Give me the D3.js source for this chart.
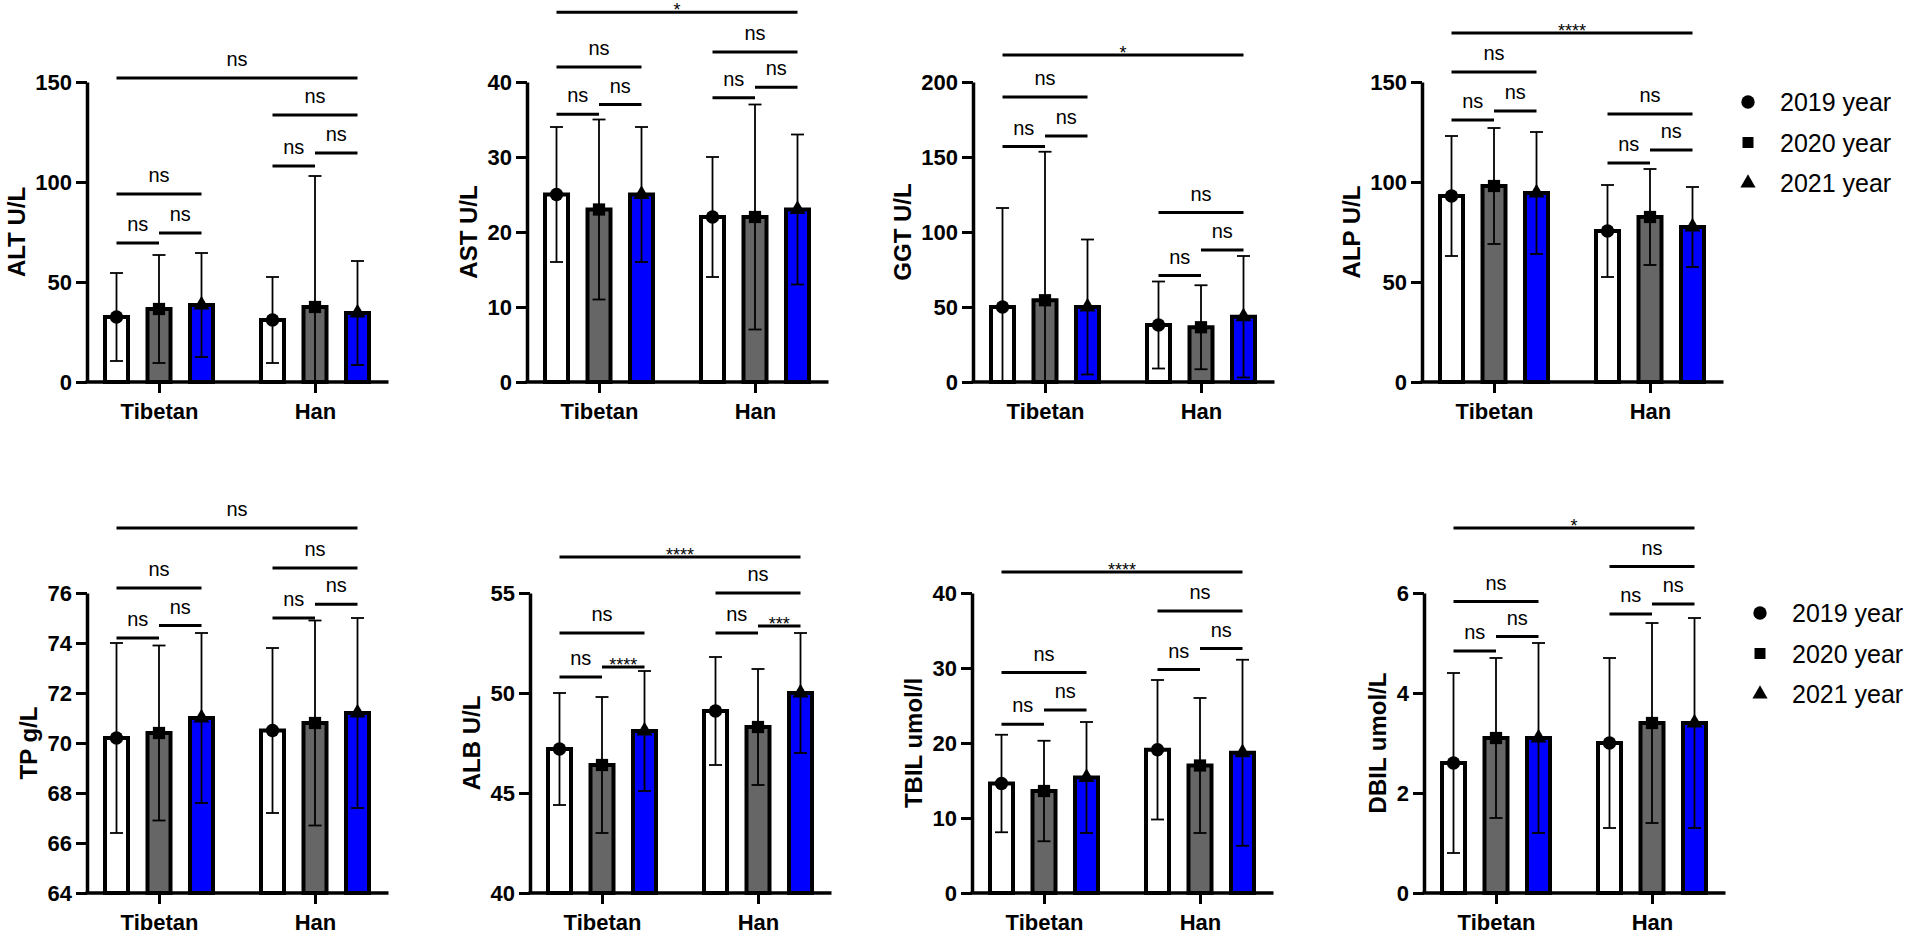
<!DOCTYPE html>
<html>
<head>
<meta charset="utf-8">
<script src="https://cdn.jsdelivr.net/npm/d3@7"></script>
<style>
  body { margin: 0; background: #fff; }
  svg { display: block; font-family: "Liberation Sans", Arial, sans-serif; }
</style>
</head>
<body>
<div id="chart"></div>
<script>
// categories and series
const groups = ["Tibetan", "Han"];
const years = ["2019 year", "2020 year", "2021 year"];
const fills = ["#ffffff", "#666666", "#0000ff"];

// means and SD per group: [Tibetan], [Han]
const altMean = [[32.5, 36.5, 38.5], [31, 37.5, 34.5]];
const altSD   = [[22, 27, 26], [21.5, 65.5, 26]];
const astMean = [[25, 23, 25], [22, 22, 23]];
const astSD   = [[9, 12, 9], [8, 15, 10]];
const ggtMean = [[50, 54.5, 50], [38, 36.5, 43.5]];
const ggtSD   = [[66, 99, 45], [29, 28, 40.5]];
const alpMean = [[93, 98, 94.5], [75.5, 82.5, 77.5]];
const alpSD   = [[30, 29, 30.5], [23, 24, 20]];
const tpMean  = [[70.2, 70.4, 71.0], [70.5, 70.8, 71.2]];
const tpSD    = [[3.8, 3.5, 3.4], [3.3, 4.1, 3.8]];
const albMean = [[47.2, 46.4, 48.1], [49.1, 48.3, 50.0]];
const albSD   = [[2.8, 3.4, 3.0], [2.7, 2.9, 3.0]];
const tbilMean = [[14.6, 13.6, 15.4], [19.1, 17.0, 18.7]];
const tbilSD   = [[6.5, 6.7, 7.4], [9.3, 9.0, 12.4]];
const dbilMean = [[2.6, 3.1, 3.1], [3.0, 3.4, 3.4]];
const dbilSD   = [[1.8, 1.6, 1.9], [1.7, 2.0, 2.1]];

// tick labels
const altTicks = [0, 50, 100, 150];
const astTicks = [0, 10, 20, 30, 40];
const ggtTicks = [0, 50, 100, 150, 200];
const alpTicks = [0, 50, 100, 150];
const tpTicks  = [64, 66, 68, 70, 72, 74, 76];
const albTicks = [40, 45, 50, 55];
const tbilTicks = [0, 10, 20, 30, 40];
const dbilTicks = [0, 2, 4, 6];

// significance brackets: [group index (-1 = across groups), from bar, to bar, level, label]
const altSig = [[-1, 0, 2, 152, "ns"], [0, 0, 2, 94, "ns"], [0, 0, 1, 69.5, "ns"], [0, 1, 2, 74.5, "ns"],
                [1, 0, 2, 133.5, "ns"], [1, 0, 1, 108, "ns"], [1, 1, 2, 114.5, "ns"]];
const astSig = [[-1, 0, 2, 49.3, "*"], [0, 0, 2, 42, "ns"], [0, 0, 1, 35.7, "ns"], [0, 1, 2, 37, "ns"],
                [1, 0, 2, 44, "ns"], [1, 0, 1, 37.9, "ns"], [1, 1, 2, 39.3, "ns"]];
const ggtSig = [[-1, 0, 2, 218, "*"], [0, 0, 2, 190, "ns"], [0, 0, 1, 157, "ns"], [0, 1, 2, 164, "ns"],
                [1, 0, 2, 113, "ns"], [1, 0, 1, 71, "ns"], [1, 1, 2, 88, "ns"]];
const alpSig = [[-1, 0, 2, 174.5, "****"], [0, 0, 2, 155, "ns"], [0, 0, 1, 131, "ns"], [0, 1, 2, 135.5, "ns"],
                [1, 0, 2, 134, "ns"], [1, 0, 1, 109.5, "ns"], [1, 1, 2, 116, "ns"]];
const tpSig  = [[-1, 0, 2, 78.6, "ns"], [0, 0, 2, 76.2, "ns"], [0, 0, 1, 74.2, "ns"], [0, 1, 2, 74.7, "ns"],
                [1, 0, 2, 77.0, "ns"], [1, 0, 1, 75.0, "ns"], [1, 1, 2, 75.55, "ns"]];
const albSig = [[-1, 0, 2, 56.8, "****"], [0, 0, 2, 53.0, "ns"], [0, 0, 1, 50.8, "ns"], [0, 1, 2, 51.3, "****"],
                [1, 0, 2, 55.0, "ns"], [1, 0, 1, 53.0, "ns"], [1, 1, 2, 53.35, "***"]];
const tbilSig = [[-1, 0, 2, 42.8, "****"], [0, 0, 2, 29.4, "ns"], [0, 0, 1, 22.5, "ns"], [0, 1, 2, 24.4, "ns"],
                 [1, 0, 2, 37.6, "ns"], [1, 0, 1, 29.8, "ns"], [1, 1, 2, 32.6, "ns"]];
const dbilSig = [[-1, 0, 2, 7.3, "*"], [0, 0, 2, 5.83, "ns"], [0, 0, 1, 4.84, "ns"], [0, 1, 2, 5.13, "ns"],
                 [1, 0, 2, 6.53, "ns"], [1, 0, 1, 5.58, "ns"], [1, 1, 2, 5.78, "ns"]];

const panels = [
  {title: "ALT U/L", mean: altMean, sd: altSD, ticks: altTicks, sig: altSig},
  {title: "AST U/L", mean: astMean, sd: astSD, ticks: astTicks, sig: astSig},
  {title: "GGT U/L", mean: ggtMean, sd: ggtSD, ticks: ggtTicks, sig: ggtSig},
  {title: "ALP U/L", mean: alpMean, sd: alpSD, ticks: alpTicks, sig: alpSig},
  {title: "TP g/L", mean: tpMean, sd: tpSD, ticks: tpTicks, sig: tpSig},
  {title: "ALB U/L", mean: albMean, sd: albSD, ticks: albTicks, sig: albSig},
  {title: "TBIL umol/l", mean: tbilMean, sd: tbilSD, ticks: tbilTicks, sig: tbilSig},
  {title: "DBIL umol/L", mean: dbilMean, sd: dbilSD, ticks: dbilTicks, sig: dbilSig}
];

// layout
const rowTop = [82, 593];
const plotH = 300;
const axisX = [87, 527, 973, 1422, 87, 530, 972, 1424];
const legendX = [1748, 1760];
const symbols = [d3.symbolCircle, d3.symbolSquare, d3.symbolTriangle];

const svg = d3.select("#chart").append("svg")
    .attr("width", 1907)
    .attr("height", 934);

panels.forEach((p, i) => drawPanel(p, axisX[i], rowTop[Math.floor(i / 4)]));
rowTop.forEach((t, r) => drawLegend(legendX[r], t));

function drawPanel(p, ax, top) {
    let g = svg.append("g");
    let y = d3.scaleLinear()
        .domain(d3.extent(p.ticks))
        .range([top + plotH, top]);
    let y0 = p.ticks[0];
    let first = ax + 29.5;
    let gx = d3.scalePoint().domain(groups).range([first + 42.5, first + 42.5 + 156]);
    let bx = d3.scalePoint().domain(d3.range(years.length)).range([-42.5, 42.5]);
    let xEnd = first + 242 + 30;

    // bars with error bars and markers
    groups.forEach((grp, gi) => {
        years.forEach((yr, yi) => {
            let cx = gx(grp) + bx(yi);
            let m = p.mean[gi][yi], s = p.sd[gi][yi];
            g.append("rect")
                .attr("x", cx - 11.5)
                .attr("y", y(m))
                .attr("width", 23)
                .attr("height", y(y0) - y(m))
                .style("fill", fills[yi])
                .style("stroke", "#000")
                .style("stroke-width", 4);
            let lo = Math.max(m - s, y0), hi = m + s;
            g.append("line")
                .attr("x1", cx).attr("x2", cx)
                .attr("y1", y(lo)).attr("y2", y(hi))
                .style("stroke", "#000").style("stroke-width", 1.8);
            let caps = [hi];
            if (m - s >= y0) caps.push(m - s);
            caps.forEach(v => {
                g.append("line")
                    .attr("x1", cx - 6.5).attr("x2", cx + 6.5)
                    .attr("y1", y(v)).attr("y2", y(v))
                    .style("stroke", "#000").style("stroke-width", 1.8);
            });
            g.append("path")
                .attr("d", d3.symbol().type(symbols[yi]).size(yi === 2 ? 110 : (yi === 1 ? 150 : 140))())
                .attr("transform", `translate(${cx},${y(m)})`)
                .style("fill", "#000");
        });
    });

    // y axis
    let yAxis = g.append("g")
        .attr("transform", `translate(${ax},0)`)
        .call(d3.axisLeft(y).tickValues(p.ticks).tickFormat(d => d).tickSize(11).tickPadding(4).tickSizeOuter(0));
    yAxis.select(".domain").style("stroke-width", 3.5);
    yAxis.selectAll(".tick line").style("stroke-width", 3);
    yAxis.selectAll(".tick text")
        .style("font-size", "22px").style("font-weight", "bold")
        .style("font-family", "'Liberation Sans', Arial, sans-serif");

    // x axis
    let xAxis = g.append("g")
        .attr("transform", `translate(0,${top + plotH})`)
        .call(d3.axisBottom(gx).tickSize(11).tickPadding(10).tickSizeOuter(0));
    xAxis.select(".domain").attr("d", `M${ax - 1.5},0H${xEnd}`).style("stroke-width", 3.5);
    xAxis.selectAll(".tick line").style("stroke-width", 3);
    xAxis.selectAll(".tick text")
        .style("font-size", "22px").style("font-weight", "bold")
        .style("font-family", "'Liberation Sans', Arial, sans-serif");

    // y title
    let left = yAxis.node().getBBox().x;
    g.append("text")
        .attr("transform", `translate(${ax + left - 19},${top + plotH / 2}) rotate(-90)`)
        .attr("text-anchor", "middle")
        .attr("dy", "0.36em")
        .style("font-size", "24px")
        .style("font-weight", "bold")
        .text(p.title);

    // significance brackets
    p.sig.forEach(([gi, a, b, v, label]) => {
        let x1, x2;
        if (gi < 0) {
            x1 = gx(groups[0]) + bx(a);
            x2 = gx(groups[1]) + bx(b);
        } else {
            x1 = gx(groups[gi]) + bx(a);
            x2 = gx(groups[gi]) + bx(b);
        }
        g.append("line")
            .attr("x1", x1).attr("x2", x2)
            .attr("y1", y(v)).attr("y2", y(v))
            .style("stroke", "#000").style("stroke-width", 3);
        let stars = label !== "ns";
        g.append("text")
            .attr("x", (x1 + x2) / 2)
            .attr("y", stars ? y(v) + 3.5 : y(v) - 12)
            .attr("text-anchor", "middle")
            .style("font-size", stars ? "18px" : "20px")
            .text(label);
    });
}

function drawLegend(lx, top) {
    let lg = svg.append("g");
    years.forEach((yr, i) => {
        let ly = top + 20 + i * 40.5;
        lg.append("path")
            .attr("d", d3.symbol().type(symbols[i]).size(i === 2 ? 100 : (i === 1 ? 121 : 140))())
            .attr("transform", `translate(${lx},${ly})`)
            .style("fill", "#000");
        lg.append("text")
            .attr("x", lx + 32)
            .attr("y", ly)
            .attr("dy", "0.36em")
            .style("font-size", "25px")
            .text(yr);
    });
}
</script>
</body>
</html>
